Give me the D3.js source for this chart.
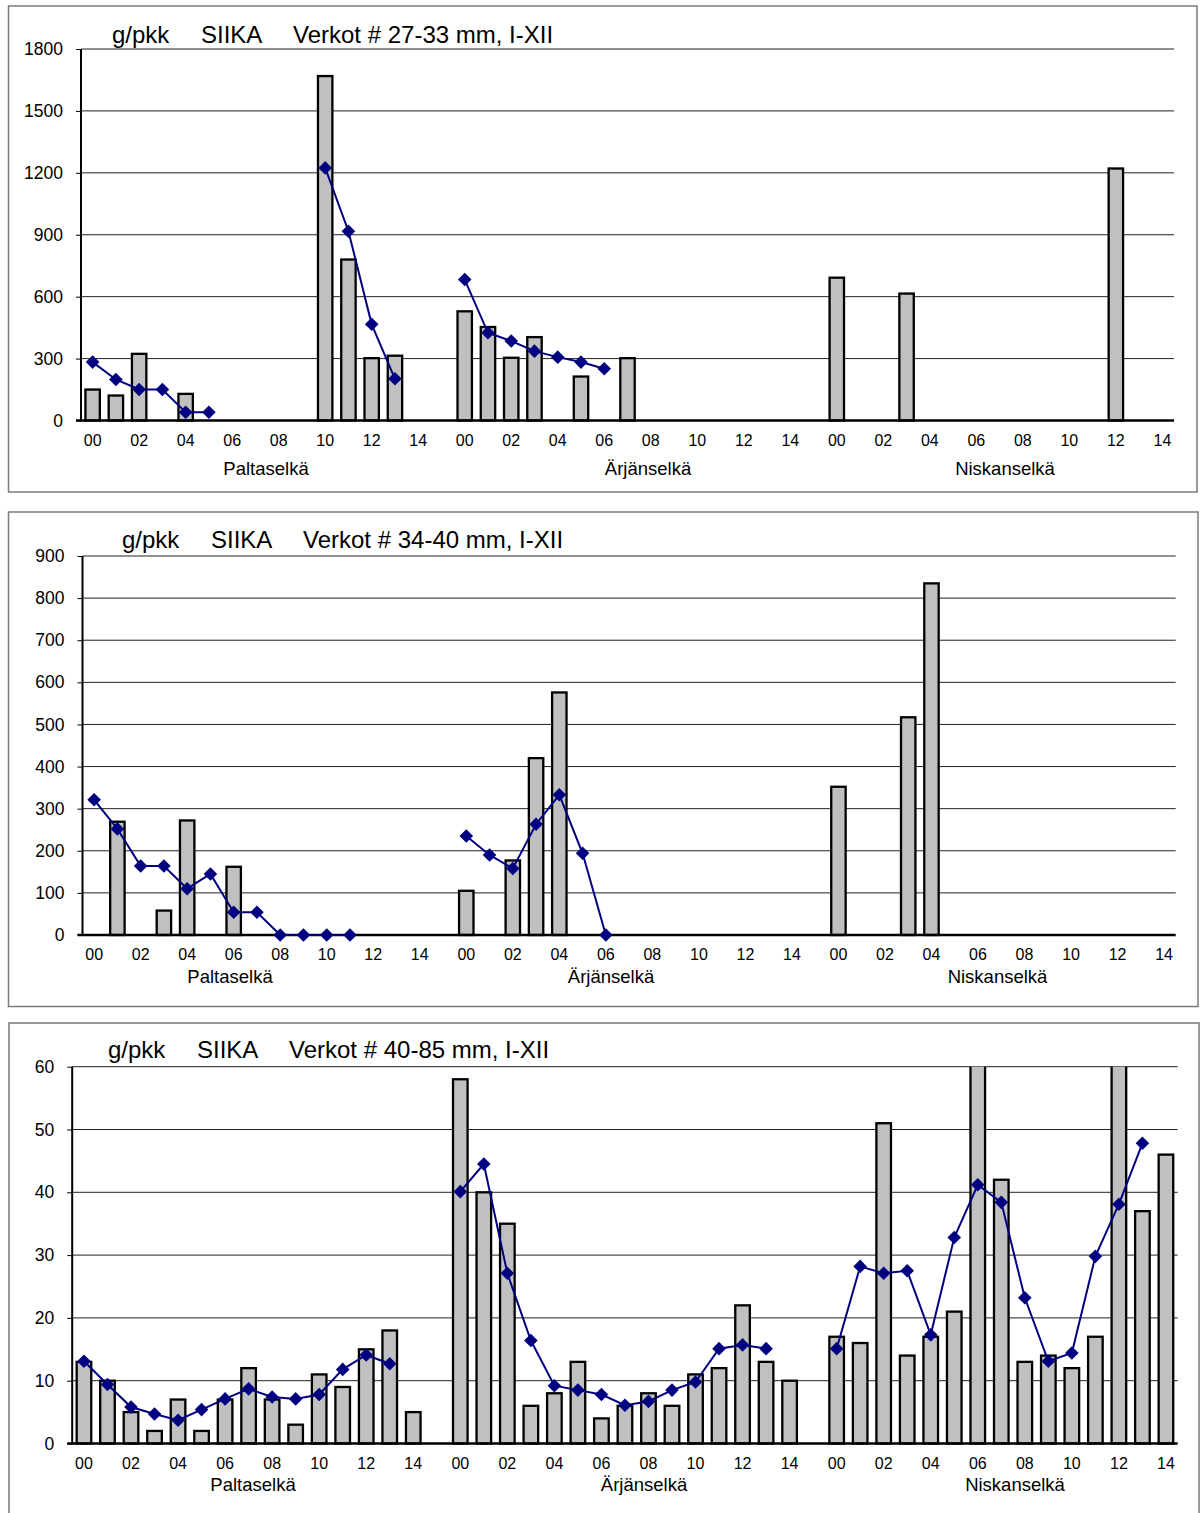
<!DOCTYPE html>
<html>
<head>
<meta charset="utf-8">
<script src="https://cdn.jsdelivr.net/npm/d3@7"></script>
<style>
  html, body { margin: 0; padding: 0; background: #fff; }
  svg { display: block; }
  text { font-family: "Liberation Sans", Arial, sans-serif; fill: #000; }
</style>
</head>
<body>
<svg id="chart" width="1202" height="1513"></svg>
<script>
// ---------- categories ----------
const groups = ["Paltaselkä", "Ärjänselkä", "Niskanselkä"];
const years = ["00","01","02","03","04","05","06","07","08","09","10","11","12","13","14"];
const titleUnit = "g/pkk";
const titleSpecies = "SIIKA";
const titles = ["Verkot # 27-33 mm, I-XII", "Verkot # 34-40 mm, I-XII", "Verkot # 40-85 mm, I-XII"];

// ---------- panel 1: 27-33 mm ----------
const yTicks1 = [0, 300, 600, 900, 1200, 1500, 1800];
const bars1_P = [150, 121, 323, null, 129, null, null, null, null, null, 1669, 780, 302, 314, null];
const bars1_A = [529, 453, 304, 404, null, 213, null, 302, null, null, null, null, null, null, null];
const bars1_N = [692, null, null, 615, null, null, null, null, null, null, null, null, 1221, null, null];
const line1_P = [283, 199, 150, 150, 40, 40, null, null, null, null, 1224, 917, 466, 202, null];
const line1_A = [683, 425, 385, 336, 307, 283, 251, null, null, null, null, null, null, null, null];
const line1_N = [null, null, null, null, null, null, null, null, null, null, null, null, null, null, null];

// ---------- panel 2: 34-40 mm ----------
const yTicks2 = [0, 100, 200, 300, 400, 500, 600, 700, 800, 900];
const bars2_P = [null, 269, null, 58, 272, null, 162, null, null, null, null, null, null, null, null];
const bars2_A = [105, null, 177, 420, 576, null, null, null, null, null, null, null, null, null, null];
const bars2_N = [352, null, null, 517, 835, null, null, null, null, null, null, null, null, null, null];
const line2_P = [321, 252, 164, 164, 110, 145, 54, 54, 0, 0, 0, 0, null, null, null];
const line2_A = [235, 190, 158, 263, 333, 194, 0, null, null, null, null, null, null, null, null];
const line2_N = [null, null, null, null, null, null, null, null, null, null, null, null, null, null, null];

// ---------- panel 3: 40-85 mm ----------
const yTicks3 = [0, 10, 20, 30, 40, 50, 60];
const bars3_P = [13, 10, 5, 2, 7, 2, 7, 12, 7, 3, 11, 9, 15, 18, 5];
const bars3_A = [58, 40, 35, 6, 8, 13, 4, 6, 8, 6, 11, 12, 22, 13, 10];
const bars3_N = [17, 16, 51, 14, 17, 21, 64, 42, 13, 14, 12, 17, 64, 37, 46];
const line3_P = [13.1, 9.4, 5.8, 4.7, 3.7, 5.4, 7.1, 8.7, 7.4, 7.1, 7.8, 11.8, 14.1, 12.7, null];
const line3_A = [40.1, 44.5, 27.1, 16.4, 9.2, 8.5, 7.8, 6.1, 6.7, 8.5, 9.8, 15.1, 15.7, 15.1, null];
const line3_N = [15.1, 28.2, 27.1, 27.5, 17.3, 32.8, 41.2, 38.4, 23.2, 13.1, 14.4, 29.8, 38.1, 47.8, null];

// ---------- layout ----------
const panels = [
  { title: titles[0], yTicks: yTicks1, bars: [bars1_P, bars1_A, bars1_N], lines: [line1_P, line1_A, line1_N],
    box: [8.5, 6, 1188.5, 486], left: 81, right: 1174, top: 49, bottom: 420.5,
    titleX: 112, titleY: 43, groupX: [266, 648, 1005], groupY: 475 },
  { title: titles[1], yTicks: yTicks2, bars: [bars2_P, bars2_A, bars2_N], lines: [line2_P, line2_A, line2_N],
    box: [8.5, 512, 1189.5, 494.5], left: 82.5, right: 1175.7, top: 556, bottom: 935,
    titleX: 122, titleY: 548, groupX: [230, 611, 997.5], groupY: 983 },
  { title: titles[2], yTicks: yTicks3, bars: [bars3_P, bars3_A, bars3_N], lines: [line3_P, line3_A, line3_N],
    box: [9, 1023, 1190, 520], left: 72.2, right: 1177.7, top: 1066.7, bottom: 1443.5,
    titleX: 108, titleY: 1058, groupX: [253, 644, 1015], groupY: 1491 }
];

// slot keys: each group's years, with an empty slot between groups
const slotKeys = [];
groups.forEach((g, gi) => {
  years.forEach(y => slotKeys.push(g + "|" + y));
  if (gi < groups.length - 1) slotKeys.push("gap" + gi);
});
const labelKeys = slotKeys.filter(k => k.includes("|") && (+k.split("|")[1]) % 2 === 0);

const svg = d3.select("#chart");
svg.append("rect").attr("width", 1202).attr("height", 1513).attr("fill", "#fff");

const diamond = (r) => `M0,${-r}L${r},0L0,${r}L${-r},0Z`;

panels.forEach((p, pi) => {
  const g = svg.append("g");
  // outer frame
  g.append("rect")
    .attr("x", p.box[0]).attr("y", p.box[1]).attr("width", p.box[2]).attr("height", p.box[3])
    .attr("fill", "#fff").attr("stroke", "#7a7a7a").attr("stroke-width", 1.5);

  const x = d3.scaleBand().domain(slotKeys).range([p.left, p.right]).paddingInner(0).paddingOuter(0);
  const yMax = d3.max(p.yTicks);
  const y = d3.scaleLinear().domain([0, yMax]).range([p.bottom, p.top]);

  // gridlines
  g.append("g").selectAll("line").data(p.yTicks.filter(t => t > 0)).join("line")
    .attr("x1", p.left).attr("x2", p.right)
    .attr("y1", d => y(d)).attr("y2", d => y(d))
    .attr("stroke", "#222").attr("stroke-width", 1);

  // clip for bars going over the top
  const clipId = "clip" + pi;
  g.append("clipPath").attr("id", clipId).append("rect")
    .attr("x", p.left - 5).attr("y", p.top).attr("width", p.right - p.left + 10).attr("height", p.bottom - p.top + 3);

  // bars
  const barData = [];
  groups.forEach((gr, gi) => p.bars[gi].forEach((v, i) => { if (v !== null) barData.push({ key: gr + "|" + years[i], v }); }));
  const bw = x.bandwidth() * 0.62;
  g.append("g").attr("clip-path", `url(#${clipId})`).selectAll("rect").data(barData).join("rect")
    .attr("x", d => x(d.key) + (x.bandwidth() - bw) / 2)
    .attr("y", d => y(d.v))
    .attr("width", bw)
    .attr("height", d => y(0) - y(d.v))
    .attr("fill", "#c0c0c0").attr("stroke", "#000").attr("stroke-width", 2.3);

  // y axis
  const yAxis = d3.axisLeft(y).tickValues(p.yTicks).tickSize(5).tickPadding(13).tickFormat(d3.format("d"));
  const ya = g.append("g").attr("transform", `translate(${p.left},0)`).call(yAxis);
  ya.select(".domain").remove();
  ya.selectAll(".tick line").attr("stroke", "#000").attr("stroke-width", 1);
  ya.selectAll("text").attr("font-size", 17.5).attr("font-family", "Liberation Sans, Arial, sans-serif");
  g.append("line").attr("x1", p.left).attr("x2", p.left).attr("y1", p.top).attr("y2", p.bottom + 1)
    .attr("stroke", "#000").attr("stroke-width", 2);

  // x axis
  const xAxis = d3.axisBottom(x).tickValues(labelKeys).tickSize(0).tickPadding(14).tickFormat(k => k.split("|")[1]);
  const xa = g.append("g").attr("transform", `translate(0,${p.bottom})`).call(xAxis);
  xa.select(".domain").remove();
  xa.selectAll("text").attr("font-size", 16).attr("font-family", "Liberation Sans, Arial, sans-serif");
  g.append("line").attr("x1", p.left - 5).attr("x2", p.right).attr("y1", p.bottom).attr("y2", p.bottom)
    .attr("stroke", "#000").attr("stroke-width", 2.5);

  // group labels
  g.append("g").selectAll("text").data(groups).join("text")
    .attr("x", (d, i) => p.groupX[i]).attr("y", p.groupY)
    .attr("text-anchor", "middle").attr("font-size", 18.5).text(d => d);

  // title
  const t = g.append("text").attr("y", p.titleY).attr("font-size", 24);
  t.append("tspan").attr("x", p.titleX).text(titleUnit);
  t.append("tspan").attr("x", p.titleX + 89).text(titleSpecies);
  t.append("tspan").attr("x", p.titleX + 181).text(p.title);

  // line series
  const pts = [];
  groups.forEach((gr, gi) => p.lines[gi].forEach((v, i) => pts.push({ key: gr + "|" + years[i], v })));
  const allPts = slotKeys.map(k => pts.find(d => d.key === k) || { key: k, v: null });
  const line = d3.line()
    .defined(d => d.v !== null)
    .x(d => x(d.key) + x.bandwidth() / 2)
    .y(d => y(d.v));
  g.append("path").datum(allPts).attr("d", line)
    .attr("fill", "none").attr("stroke", "#000080").attr("stroke-width", 2);
  g.append("g").selectAll("path").data(allPts.filter(d => d.v !== null)).join("path")
    .attr("transform", d => `translate(${x(d.key) + x.bandwidth() / 2},${y(d.v)})`)
    .attr("d", diamond(6.8))
    .attr("fill", "#000080");
});
</script>
</body>
</html>
